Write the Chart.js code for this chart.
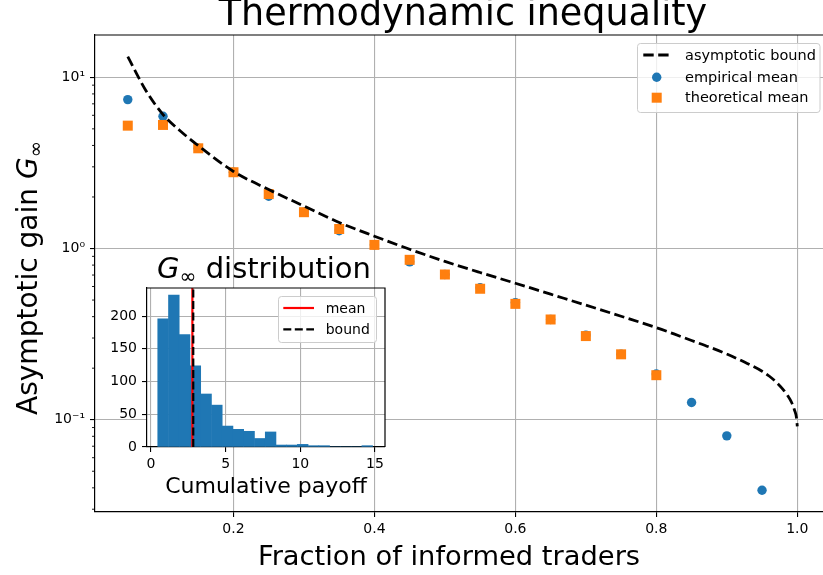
<!DOCTYPE html>
<html>
<head>
<meta charset="utf-8">
<script src="https://cdn.jsdelivr.net/npm/chart.js@4.4.1/dist/chart.umd.min.js"></script>
<style>
html,body{margin:0;padding:0;background:#fff;overflow:hidden;}
#wrap{position:relative;width:823px;height:575px;}
#main{position:absolute;left:0;top:0;width:823px;height:575px;}
#inset{position:absolute;left:100px;top:250px;width:295px;height:255px;}
</style>
</head>
<body>
<div id="wrap">
<canvas id="main" width="823" height="575"></canvas>
<canvas id="inset" width="295" height="255"></canvas>
</div>
<script>
// ---------- data ----------
const fractions = [0.05,0.10,0.15,0.20,0.25,0.30,0.35,0.40,0.45,0.50,0.55,0.60,0.65,0.70,0.75,0.80,0.85,0.90,0.95];
const empiricalMean = [7.41,5.92,3.85,2.79,2.02,1.63,1.27,1.05,0.836,0.705,0.590,0.483,0.385,0.312,0.241,0.185,0.126,0.0805,0.0387];
const theoreticalFractions = [0.05,0.10,0.15,0.20,0.25,0.30,0.35,0.40,0.45,0.50,0.55,0.60,0.65,0.70,0.75,0.80];
const theoreticalMean = [5.22,5.27,3.85,2.79,2.08,1.63,1.30,1.05,0.859,0.705,0.582,0.475,0.385,0.308,0.241,0.182];
const boundFractions = [0.05,0.075,0.10,0.125,0.15,0.20,0.25,0.30,0.35,0.40,0.45,0.50,0.55,0.60,0.65,0.70,0.75,0.80,0.825,0.85,0.875,0.90,0.925,0.95,0.96,0.97,0.98,0.986,0.992,0.996,0.999,1.0];
const boundValues = [13.2,8.47,6.06,4.84,3.99,2.82,2.21,1.77,1.42,1.18,0.99,0.841,0.724,0.627,0.541,0.467,0.402,0.345,0.317,0.290,0.266,0.242,0.217,0.192,0.180,0.166,0.150,0.139,0.126,0.114,0.102,0.0913];
const xTickValues = [0.2,0.4,0.6,0.8,1.0];
const xTickLabels = ['0.2','0.4','0.6','0.8','1.0'];
const yTickValues = [0.1,1,10];
const yTickLabels = ['10\u207B\u00B9','10\u2070','10\u00B9'];
const seriesLabels = ['asymptotic bound','empirical mean','theoretical mean'];

const histBinEdges = [0.45,1.17,1.89,2.61,3.33,4.05,4.77,5.49,6.21,6.93,7.65,8.37,9.09,9.80,10.52,11.24,11.96,12.68,13.40,14.12,14.84];
const histCounts = [196,232,172,124,81,64,32,27,24,13,23,3,3,4,2,2,0,0,0,2];
const histMean = 2.77;
const histBound = 2.83;
const insetXTickValues = [0,5,10,15];
const insetYTickValues = [0,50,100,150,200];
const insetLabels = ['mean','bound'];

// ---------- styling ----------
const FAM = "'DejaVu Sans', sans-serif";
const BLUE = '#1f77b4', ORANGE = '#ff7f0e', GRID = '#b0b0b0';

function drawRuns(ctx, runs, x, y, align){
  let total = 0;
  runs.forEach(r => { ctx.font = r.font; r.w = ctx.measureText(r.text).width; total += r.w; });
  let cx = align === 'center' ? x - total/2 : x;
  ctx.textAlign = 'left';
  ctx.textBaseline = 'alphabetic';
  runs.forEach(r => { ctx.font = r.font; ctx.fillText(r.text, cx, y + (r.dy||0)); cx += r.w; });
}
function roundRect(ctx, x, y, w, h, r){
  ctx.beginPath();
  ctx.moveTo(x+r, y); ctx.lineTo(x+w-r, y); ctx.quadraticCurveTo(x+w, y, x+w, y+r);
  ctx.lineTo(x+w, y+h-r); ctx.quadraticCurveTo(x+w, y+h, x+w-r, y+h);
  ctx.lineTo(x+r, y+h); ctx.quadraticCurveTo(x, y+h, x, y+h-r);
  ctx.lineTo(x, y+r); ctx.quadraticCurveTo(x, y, x+r, y); ctx.closePath();
}

// ---------- main chart ----------
const mainDecor = {
  id: 'mainDecor',
  afterDraw(chart){
    const ctx = chart.ctx, a = chart.chartArea, ys = chart.scales.y;
    ctx.save();
    // top spine
    ctx.strokeStyle = '#000'; ctx.lineWidth = 1.2;
    ctx.beginPath(); ctx.moveTo(a.left, a.top); ctx.lineTo(a.right, a.top); ctx.stroke();
    // minor log ticks
    ctx.lineWidth = 0.9;
    for (let k = -2; k <= 1; k++){
      for (let m = 2; m <= 9; m++){
        const v = m * Math.pow(10, k);
        if (v < ys.min || v > ys.max) continue;
        const py = ys.getPixelForValue(v);
        ctx.beginPath(); ctx.moveTo(a.left - 3, py); ctx.lineTo(a.left, py); ctx.stroke();
      }
    }
    // title
    ctx.fillStyle = '#000';
    drawRuns(ctx, [{text:'Thermodynamic inequality', font:'36.5px '+FAM}], 463, 25, 'center');
    // x label
    drawRuns(ctx, [{text:'Fraction of informed traders', font:'27.3px '+FAM}], 449, 565, 'center');
    // y label
    ctx.save();
    ctx.translate(37, 278);
    ctx.rotate(-Math.PI/2);
    drawRuns(ctx, [
      {text:'Asymptotic gain ', font:'28px '+FAM},
      {text:'G', font:'italic 28px '+FAM},
      {text:'\u221E', font:'19.6px '+FAM, dy:5}
    ], 0, 0, 'center');
    ctx.restore();
    // legend
    const lx = 637.5, ly = 43.5, lw = 182.5, lh = 69;
    roundRect(ctx, lx, ly, lw, lh, 3);
    ctx.fillStyle = 'rgba(255,255,255,0.8)'; ctx.fill();
    ctx.strokeStyle = '#cccccc'; ctx.lineWidth = 1; ctx.stroke();
    const rows = [55, 77.3, 97.7];
    ctx.strokeStyle = '#000'; ctx.lineWidth = 2.8; ctx.setLineDash([10.4,4.5]);
    ctx.beginPath(); ctx.moveTo(643.3, rows[0]); ctx.lineTo(670, rows[0]); ctx.stroke();
    ctx.setLineDash([]);
    ctx.fillStyle = BLUE; ctx.beginPath(); ctx.arc(656.7, rows[1], 4.7, 0, Math.PI*2); ctx.fill();
    ctx.fillStyle = ORANGE; ctx.fillRect(656.7-5, rows[2]-5, 10, 10);
    ctx.fillStyle = '#000'; ctx.font = '14.5px '+FAM; ctx.textAlign = 'left'; ctx.textBaseline = 'middle';
    seriesLabels.forEach((t,i) => ctx.fillText(t, 685, rows[i]+1));
    ctx.restore();
  }
};

new Chart(document.getElementById('main'), {
  type: 'scatter',
  data: {
    datasets: [
      { label: seriesLabels[0], data: boundFractions.map((x,i)=>({x, y: boundValues[i]})),
        showLine: true, borderColor: '#000', borderWidth: 2.8, borderDash: [10.4,4.5],
        pointRadius: 0, pointHoverRadius: 0, cubicInterpolationMode: 'monotone', fill: false, order: 0 },
      { label: seriesLabels[1], data: fractions.map((x,i)=>({x, y: empiricalMean[i]})),
        backgroundColor: BLUE, borderWidth: 0, pointRadius: 4.7, pointStyle: 'circle', order: 2 },
      { label: seriesLabels[2], data: theoreticalFractions.map((x,i)=>({x, y: theoreticalMean[i]})),
        backgroundColor: ORANGE, borderWidth: 0, pointRadius: 7.07, pointStyle: 'rect', order: 1 }
    ]
  },
  options: {
    responsive: false, animation: false, devicePixelRatio: 1,
    layout: { autoPadding: false, padding: { left: 0, right: 0, top: 35, bottom: 0 } },
    plugins: { legend: { display: false }, tooltip: { enabled: false }, title: { display: false } },
    scales: {
      x: {
        type: 'linear', min: 0.0035, max: 1.0365,
        afterBuildTicks: s => { s.ticks = xTickValues.map(v => ({value: v})); },
        afterFit: s => { s.height = 63; },
        ticks: { callback: v => xTickLabels[xTickValues.indexOf(v)] ?? '', font: { family: FAM, size: 14 },
                 color: '#000', padding: 4, maxRotation: 0, autoSkip: false },
        grid: { color: GRID, lineWidth: 1.1, tickLength: 5, tickColor: '#000', tickWidth: 1.1 },
        border: { display: true, color: '#000', width: 1.2 }
      },
      y: {
        type: 'logarithmic', min: 0.0289, max: 17.67,
        afterBuildTicks: s => { s.ticks = yTickValues.map(v => ({value: v, major: true})); },
        afterFit: s => { s.width = 95; },
        ticks: { callback: v => yTickLabels[yTickValues.indexOf(v)] ?? '', font: { family: FAM, size: 14 },
                 color: '#000', padding: 5, autoSkip: false },
        grid: { color: GRID, lineWidth: 1.1, tickLength: 5, tickColor: '#000', tickWidth: 1.1 },
        border: { display: true, color: '#000', width: 1.2 }
      }
    }
  },
  plugins: [mainDecor]
});

// ---------- inset histogram ----------
const binCenters = histCounts.map((c,i) => (histBinEdges[i] + histBinEdges[i+1]) / 2);
const insetDecor = {
  id: 'insetDecor',
  beforeDraw(chart){
    const ctx = chart.ctx, a = chart.chartArea;
    ctx.save(); ctx.fillStyle = '#fff'; ctx.fillRect(a.left, a.top, a.right-a.left, a.bottom-a.top); ctx.restore();
  },
  afterDraw(chart){
    const ctx = chart.ctx, a = chart.chartArea;
    ctx.save();
    ctx.strokeStyle = '#000'; ctx.lineWidth = 1.2;
    ctx.beginPath(); ctx.moveTo(a.left, a.top); ctx.lineTo(a.right, a.top); ctx.lineTo(a.right, a.bottom); ctx.stroke();
    ctx.fillStyle = '#000';
    drawRuns(ctx, [
      {text:'G', font:'italic 29px '+FAM},
      {text:'\u221E', font:'20.3px '+FAM, dy:5},
      {text:' distribution', font:'29px '+FAM}
    ], 164, 28.3, 'center');
    drawRuns(ctx, [{text:'Cumulative payoff', font:'22px '+FAM}], (a.left+a.right)/2, 243, 'center');
    // legend
    const lx = 178.5, ly = 46.5, lw = 98, lh = 46;
    roundRect(ctx, lx, ly, lw, lh, 3);
    ctx.fillStyle = 'rgba(255,255,255,0.8)'; ctx.fill();
    ctx.strokeStyle = '#cccccc'; ctx.lineWidth = 1; ctx.stroke();
    const rows = [58, 79.3];
    ctx.strokeStyle = '#ff0000'; ctx.lineWidth = 2.2;
    ctx.beginPath(); ctx.moveTo(183.3, rows[0]); ctx.lineTo(214, rows[0]); ctx.stroke();
    ctx.strokeStyle = '#000'; ctx.setLineDash([8,3.5]);
    ctx.beginPath(); ctx.moveTo(183.3, rows[1]); ctx.lineTo(214, rows[1]); ctx.stroke();
    ctx.setLineDash([]);
    ctx.fillStyle = '#000'; ctx.font = '14px '+FAM; ctx.textAlign = 'left'; ctx.textBaseline = 'middle';
    insetLabels.forEach((t,i) => ctx.fillText(t, 225.7, rows[i]+1));
    ctx.restore();
  }
};

new Chart(document.getElementById('inset'), {
  type: 'bar',
  data: {
    datasets: [
      { type: 'bar', label: 'histogram', data: binCenters.map((x,i)=>({x, y: histCounts[i]})),
        backgroundColor: BLUE, borderWidth: 0, barPercentage: 1, categoryPercentage: 1, order: 3 },
      { type: 'line', label: insetLabels[0], data: [{x: histMean, y: 0}, {x: histMean, y: 243}],
        borderColor: '#ff0000', borderWidth: 2.2, pointRadius: 0, fill: false, order: 2 },
      { type: 'line', label: insetLabels[1], data: [{x: histBound, y: 0}, {x: histBound, y: 243}],
        borderColor: '#000', borderWidth: 2.2, borderDash: [8,3.5], pointRadius: 0, fill: false, order: 1 }
    ]
  },
  options: {
    responsive: false, animation: false, devicePixelRatio: 1,
    layout: { autoPadding: false, padding: { left: 0, right: 10, top: 38, bottom: 0 } },
    plugins: { legend: { display: false }, tooltip: { enabled: false }, title: { display: false } },
    scales: {
      x: {
        type: 'linear', min: -0.268, max: 15.67, offset: false,
        afterBuildTicks: s => { s.ticks = insetXTickValues.map(v => ({value: v})); },
        afterFit: s => { s.height = 58; },
        ticks: { font: { family: FAM, size: 14 }, color: '#000', padding: 4, maxRotation: 0, autoSkip: false },
        grid: { color: GRID, lineWidth: 1.1, tickLength: 5, tickColor: '#000', offset: false },
        border: { display: true, color: '#000', width: 1.2 }
      },
      y: {
        type: 'linear', min: 0, max: 243,
        afterBuildTicks: s => { s.ticks = insetYTickValues.map(v => ({value: v})); },
        afterFit: s => { s.width = 47; },
        ticks: { font: { family: FAM, size: 14 }, color: '#000', padding: 5, autoSkip: false },
        grid: { color: GRID, lineWidth: 1.1, tickLength: 5, tickColor: '#000' },
        border: { display: true, color: '#000', width: 1.2 }
      }
    }
  },
  plugins: [insetDecor]
});
</script>
</body>
</html>
